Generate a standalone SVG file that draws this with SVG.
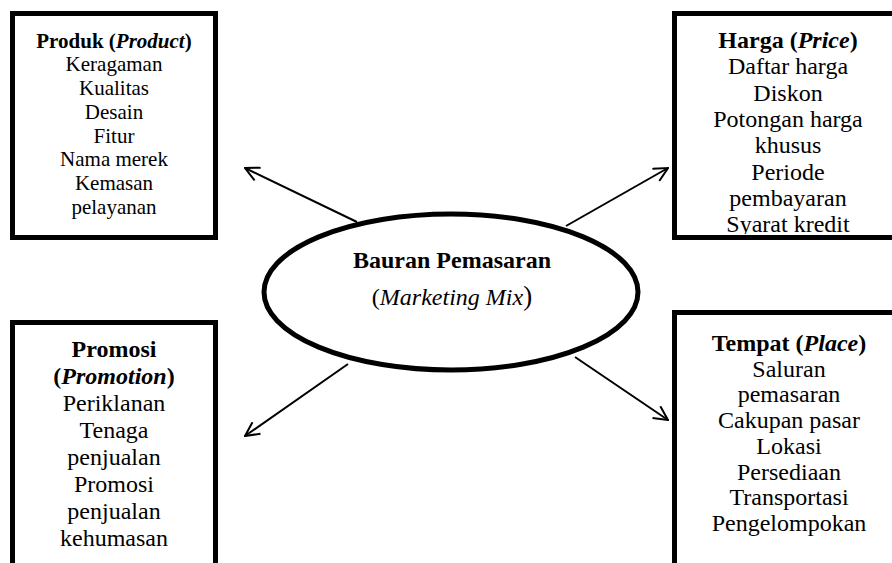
<svg xmlns="http://www.w3.org/2000/svg" width="892" height="563" viewBox="0 0 892 563">
<style>
text{font-family:"Liberation Serif","Times New Roman",serif;fill:#000;text-anchor:middle}
.box{fill:none;stroke:#000;stroke-width:5}
.b{font-weight:bold}
.i{font-style:italic}
.s21{font-size:21px}
.s24{font-size:24px}
.conn{stroke:#000;stroke-width:2;fill:none}
</style>
<defs>
<marker id="arr" viewBox="0 0 16 16" refX="15" refY="8" markerWidth="16" markerHeight="16" markerUnits="userSpaceOnUse" orient="auto">
<path d="M1,1 L15,8 L1,15" fill="none" stroke="#000" stroke-width="2"/>
</marker>
<clipPath id="clipH"><rect x="677" y="16" width="215" height="218"/></clipPath>
</defs>
<rect width="892" height="563" fill="#fff"/>
<g id="connectors">
<line class="conn" x1="357" y1="222" x2="245" y2="168" marker-end="url(#arr)"/>
<line class="conn" x1="566" y1="226" x2="668" y2="168" marker-end="url(#arr)"/>
<line class="conn" x1="348" y1="364" x2="245" y2="436" marker-end="url(#arr)"/>
<line class="conn" x1="575" y1="357" x2="668" y2="420" marker-end="url(#arr)"/>
</g>
<g id="center">
<ellipse cx="451" cy="292" rx="187" ry="78" fill="#fff" stroke="#000" stroke-width="5"/>
<text class="s24 b" x="452" y="268">Bauran Pemasaran</text>
<text class="s24" x="452" y="305">(<tspan class="i">Marketing Mix</tspan><tspan font-size="27">)</tspan></text>
</g>
<g id="produk">
<text class="s21" x="114" y="47.5"><tspan class="b">Produk (<tspan class="i">Product</tspan>)</tspan><tspan x="114" dy="23.75">Keragaman</tspan><tspan x="114" dy="23.75">Kualitas</tspan><tspan x="114" dy="23.75">Desain</tspan><tspan x="114" dy="23.75">Fitur</tspan><tspan x="114" dy="23.75">Nama merek</tspan><tspan x="114" dy="23.75">Kemasan</tspan><tspan x="114" dy="23.75">pelayanan</tspan></text>
<rect class="box" x="12.5" y="13.5" width="203" height="224"/>
</g>
<g id="harga">
<text class="s24" x="788" y="48" clip-path="url(#clipH)"><tspan class="b">Harga (<tspan class="i">Price</tspan>)</tspan><tspan x="788" dy="26.3">Daftar harga</tspan><tspan x="788" dy="26.3">Diskon</tspan><tspan x="788" dy="26.3">Potongan harga</tspan><tspan x="788" dy="26.3">khusus</tspan><tspan x="788" dy="26.3">Periode</tspan><tspan x="788" dy="26.3">pembayaran</tspan><tspan x="788" dy="26.3">Syarat kredit</tspan></text>
<rect class="box" x="674.5" y="13.5" width="230" height="224"/>
</g>
<g id="promosi">
<text class="s24" x="114" y="357"><tspan class="b">Promosi</tspan><tspan class="b" x="114" dy="27">(<tspan class="i">Promotion</tspan>)</tspan><tspan x="114" dy="27">Periklanan</tspan><tspan x="114" dy="27">Tenaga</tspan><tspan x="114" dy="27">penjualan</tspan><tspan x="114" dy="27">Promosi</tspan><tspan x="114" dy="27">penjualan</tspan><tspan x="114" dy="27">kehumasan</tspan></text>
<rect class="box" x="12.5" y="322.5" width="203" height="260"/>
</g>
<g id="tempat">
<text class="s24" x="789" y="351"><tspan class="b">Tempat (<tspan class="i">Place</tspan>)</tspan><tspan x="789" dy="25.7">Saluran</tspan><tspan x="789" dy="25.7">pemasaran</tspan><tspan x="789" dy="25.7">Cakupan pasar</tspan><tspan x="789" dy="25.7">Lokasi</tspan><tspan x="789" dy="25.7">Persediaan</tspan><tspan x="789" dy="25.7">Transportasi</tspan><tspan x="789" dy="25.7">Pengelompokan</tspan></text>
<rect class="box" x="674.5" y="312.5" width="230" height="270"/>
</g>
</svg>
